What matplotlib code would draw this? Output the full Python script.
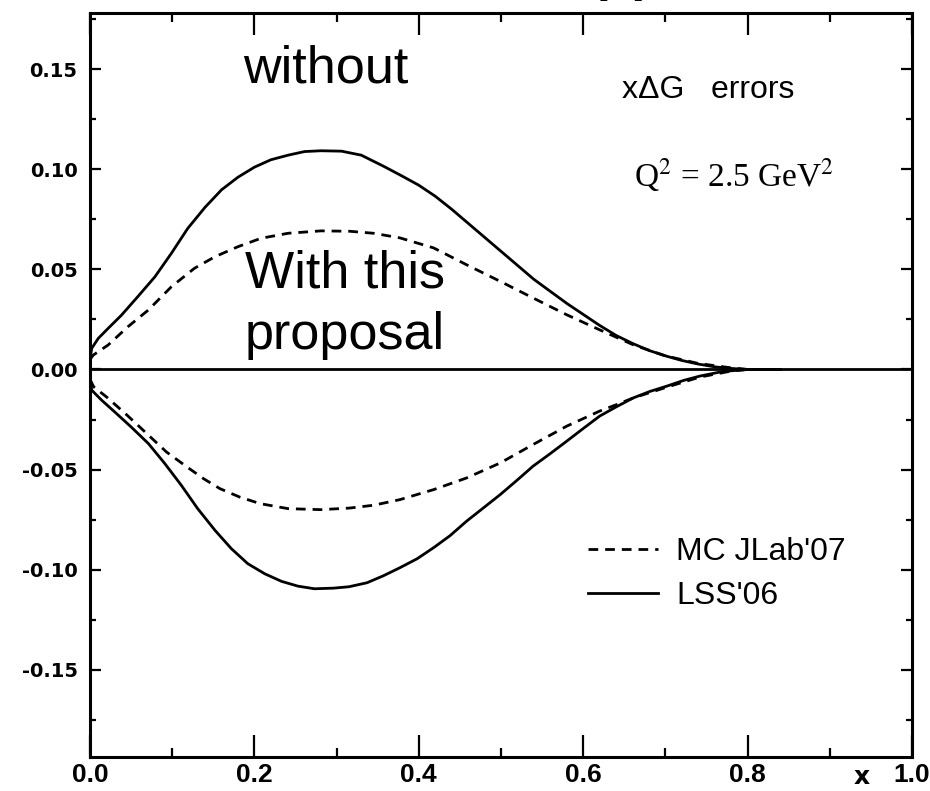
import matplotlib
matplotlib.use("Agg")
import matplotlib.pyplot as plt
from matplotlib.ticker import MultipleLocator, FuncFormatter

# ---- data ----
x_lss_up = [0.0, 0.002, 0.01, 0.022, 0.038, 0.058, 0.079, 0.099, 0.119, 0.14, 0.16, 0.18, 0.20,
            0.22, 0.241, 0.261, 0.281, 0.306, 0.33, 0.357, 0.38, 0.40, 0.42, 0.44, 0.46, 0.48,
            0.50, 0.52, 0.54, 0.56, 0.58, 0.60, 0.62, 0.64, 0.66, 0.68, 0.70, 0.72, 0.74,
            0.76, 0.78, 0.80, 0.84]
y_lss_up = [0.005, 0.0105, 0.0155, 0.0205, 0.027, 0.0363, 0.0463, 0.058, 0.0705, 0.081, 0.0897, 0.096, 0.101,
            0.1047, 0.107, 0.1088, 0.1092, 0.109, 0.107, 0.1015, 0.0965, 0.092, 0.0865, 0.080, 0.073, 0.066,
            0.059, 0.052, 0.045, 0.039, 0.033, 0.0275, 0.022, 0.017, 0.013, 0.0095, 0.0068, 0.0045, 0.0027,
            0.0013, 0.0005, 0.0, 0.0]

x_lss_lo = [0.0, 0.002, 0.014, 0.030, 0.050, 0.071, 0.091, 0.111, 0.131, 0.152, 0.172, 0.192,
            0.2125, 0.233, 0.253, 0.273, 0.296, 0.315, 0.337, 0.357, 0.377, 0.398, 0.418, 0.438,
            0.458, 0.479, 0.499, 0.519, 0.539, 0.56, 0.58, 0.60, 0.62, 0.641, 0.661, 0.681,
            0.702, 0.722, 0.742, 0.77, 0.80, 0.84]
y_lss_lo = [-0.005, -0.0103, -0.0153, -0.0212, -0.0287, -0.037, -0.047, -0.0578, -0.0695, -0.0803, -0.0895, -0.097,
            -0.102, -0.1058, -0.1082, -0.1095, -0.1092, -0.1085, -0.1065, -0.103, -0.099, -0.0945, -0.089, -0.083,
            -0.0758, -0.069, -0.0625, -0.0555, -0.0483, -0.042, -0.0358, -0.0295, -0.0233, -0.0185, -0.0142, -0.011,
            -0.0083, -0.0055, -0.0033, -0.001, 0.0, 0.0]

x_mc_up = [0.0, 0.004, 0.022, 0.046, 0.071, 0.099, 0.127, 0.152, 0.18, 0.208, 0.241, 0.281,
           0.316, 0.345, 0.377, 0.418, 0.458, 0.499, 0.539, 0.58, 0.62, 0.661, 0.70, 0.74, 0.78, 0.80]
y_mc_up = [0.005, 0.0072, 0.0122, 0.0213, 0.0297, 0.0413, 0.0505, 0.0563, 0.0613, 0.0655, 0.068, 0.0692,
           0.069, 0.068, 0.0657, 0.0607, 0.0523, 0.044, 0.0357, 0.0273, 0.0198, 0.0123, 0.0068, 0.003, 0.0008, 0.0]

x_mc_lo = [0.0, 0.0045, 0.020, 0.045, 0.069, 0.093, 0.118, 0.138, 0.158, 0.182, 0.207, 0.241, 0.281,
           0.316, 0.345, 0.377, 0.418, 0.458, 0.499, 0.539, 0.58, 0.62, 0.641, 0.661, 0.702, 0.742, 0.78, 0.80]
y_mc_lo = [-0.005, -0.0087, -0.0137, -0.0228, -0.032, -0.0412, -0.0487, -0.0545, -0.0595, -0.0637, -0.067, -0.0695, -0.070,
           -0.0692, -0.0678, -0.065, -0.060, -0.0542, -0.0467, -0.0375, -0.0283, -0.0208, -0.0175, -0.0142, -0.0088, -0.0038,
           -0.0008, 0.0]

labels = ["MC JLab'07", "LSS'06"]
x_ticks = [0.0, 0.2, 0.4, 0.6, 0.8, 1.0]
y_ticks = [-0.15, -0.10, -0.05, 0.00, 0.05, 0.10, 0.15]

# ---- figure ----
fig = plt.figure(figsize=(9.3, 7.91), dpi=100)
ax = fig.add_axes([0.0968, 0.043, 0.8838, 0.9406])

lw = 2.0
dash = (3.5, 2.5)
ln_mc, = ax.plot(x_mc_up, y_mc_up, color='black', lw=lw, dashes=dash, label=labels[0])
ax.plot(x_mc_lo, y_mc_lo, color='black', lw=lw, dashes=dash)
ln_lss, = ax.plot(x_lss_up, y_lss_up, color='black', lw=lw, label=labels[1])
ax.plot(x_lss_lo, y_lss_lo, color='black', lw=lw)
ax.axhline(0.0, color='black', lw=lw)

ax.set_xlim(0.0, 1.0)
ax.set_ylim(-0.1935, 0.178)

ax.xaxis.set_major_locator(plt.FixedLocator(x_ticks))
ax.xaxis.set_minor_locator(MultipleLocator(0.1))
ax.yaxis.set_major_locator(plt.FixedLocator(y_ticks))
ax.yaxis.set_minor_locator(MultipleLocator(0.025))
ax.xaxis.set_major_formatter(FuncFormatter(lambda v, p: "%.1f" % v))
ax.yaxis.set_major_formatter(FuncFormatter(lambda v, p: ("%.2f" % v).replace("-0.00", "0.00")))

ax.tick_params(axis='x', which='major', direction='in', length=16, width=1.6, top=True, pad=4)
ax.tick_params(axis='x', which='minor', direction='in', length=6.5, width=1.6, top=True)
ax.tick_params(axis='y', which='major', direction='in', length=8, width=1.6, right=True, pad=9)
ax.tick_params(axis='y', which='minor', direction='in', length=4, width=1.6, right=True)

for lab in ax.get_xticklabels():
    lab.set_family(['Liberation Sans Narrow', 'Liberation Sans'])
    lab.set_fontweight('bold')
    lab.set_fontsize(19)
for lab in ax.get_yticklabels():
    lab.set_family('DejaVu Sans')
    lab.set_fontweight('bold')
    lab.set_fontsize(14)

for s in ax.spines.values():
    s.set_linewidth(2.2)

# texts
sans = ['Liberation Sans', 'DejaVu Sans']
ax.text(0.186, 0.150, "without", fontsize=37.5, family=sans, va='center', ha='left')
ax.text(0.188, 0.041, "With this", fontsize=37.5, family=sans, va='baseline', ha='left')
ax.text(0.188, 0.010, "proposal", fontsize=37.5, family=sans, va='baseline', ha='left')
ax.text(0.647, 0.1395, "x\u0394G   errors", fontsize=23,
        family=['Liberation Sans Narrow', 'Liberation Sans'], va='center', ha='left')
ax.text(0.662, 0.097, r"Q$^{2}$ = 2.5 GeV$^{2}$", fontsize=24, family=['Liberation Serif'],
        va='center', ha='left', math_fontfamily='stix')

# x axis label
fig.text(862 / 930, 1 - 789 / 791, "x", fontsize=18, fontweight='bold',
         family='DejaVu Sans', ha='center', va='bottom')
# panel label at the top (mostly outside the picture in the reference)
fig.text(621 / 930, 1 + 9 / 791, "(a)", fontsize=36, fontweight='bold',
         family=sans, ha='center', va='baseline')

leg = ax.legend(handles=[ln_mc, ln_lss], loc='upper left', bbox_to_anchor=(0.606, 0.296),
                frameon=False, prop={'family': 'Liberation Sans', 'size': 23},
                handlelength=2.2, handletextpad=0.55, labelspacing=0.45,
                borderpad=0, borderaxespad=0)

fig.savefig("out.png", dpi=100)
